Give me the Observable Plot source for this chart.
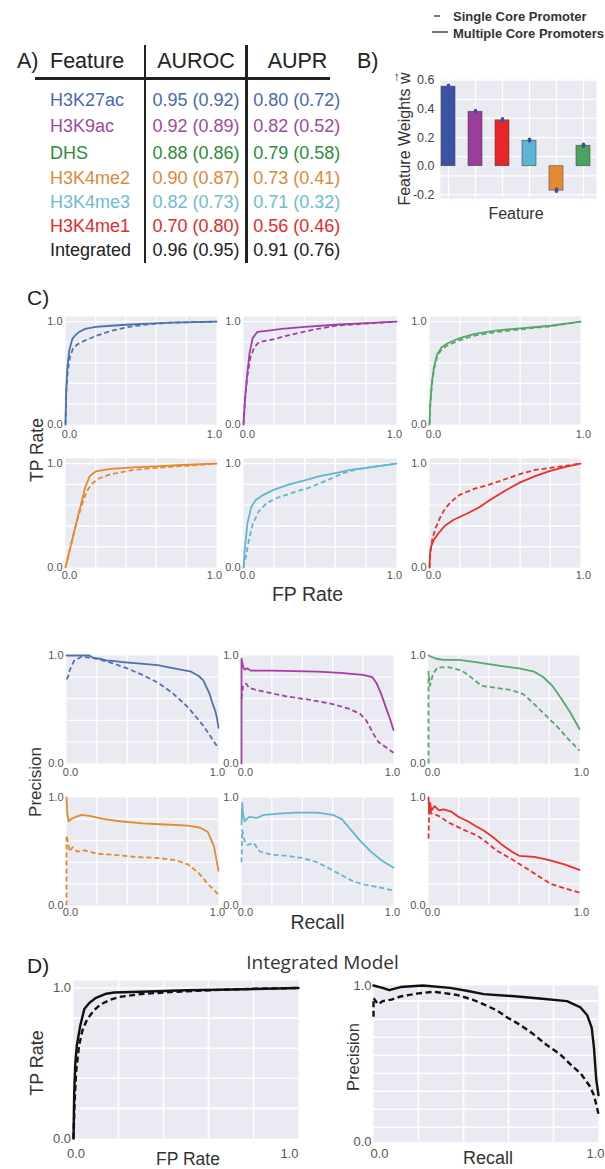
<!DOCTYPE html>
<html><head><meta charset="utf-8">
<script src="https://cdn.jsdelivr.net/npm/d3@7"></script>
<script src="https://cdn.jsdelivr.net/npm/@observablehq/plot@0.6"></script>
<style>
body{margin:0;background:#fff}
#fig{position:relative;width:605px;height:1169px;overflow:hidden;background:#fff;font-family:"Liberation Sans",Arial,sans-serif}
.t{position:absolute;white-space:nowrap;line-height:1}
.ln{position:absolute}
svg{overflow:visible}
.vec{position:relative;display:inline-block}
.vec .arr{position:absolute;left:0.02em;top:-0.62em;font-size:0.8em;line-height:1}
</style></head><body><div id="fig"></div>
<script>
// ---------- DATA ----------
const features = ["H3K27ac","H3K9ac","DHS","H3K4me2","H3K4me3","H3K4me1","Integrated"];
const aurocMulti  = [0.95,0.92,0.88,0.90,0.82,0.70,0.96];
const aurocSingle = [0.92,0.89,0.86,0.87,0.73,0.80,0.95];
const auprMulti   = [0.80,0.82,0.79,0.73,0.71,0.56,0.91];
const auprSingle  = [0.72,0.52,0.58,0.41,0.32,0.46,0.76];
const tableColors = ["#4B68AE","#9E4AA0","#2C8C3C","#E0883A","#6DBDD0","#E52A2A","#222222"];

const weightFeatures = ["H3K27ac","H3K9ac","H3K4me1","H3K4me3","H3K4me2","DHS"];
const weights   = [0.555,0.38,0.32,0.178,-0.17,0.143];
const weightErr = [0.007,0.006,0.008,0.006,0.008,0.007];
const barColors = ["#3A53A4","#9A3D9C","#E8262A","#5BB5D5","#E38B2E","#4DA35E"];
const weightTicks = [-0.2,0.0,0.2,0.4,0.6];
const weightGrid = [0.6,0.4667,0.3333,0.2,0.0667,-0.0667,-0.2];

const curveColors = {H3K27ac:"#4C72B0",H3K9ac:"#A23FA3",DHS:"#55A868",H3K4me2:"#E38A2D",H3K4me3:"#64B5CD",H3K4me1:"#E8302A",Integrated:"#111111"};

// ROC curves: [FP rate, TP rate]; multi = solid, single = dashed
const roc_H3K27ac_multi  = [[0,0],[0.004,0.3],[0.012,0.55],[0.025,0.72],[0.045,0.83],[0.06,0.86],[0.09,0.9],[0.13,0.93],[0.2,0.95],[0.3,0.96],[0.4,0.97],[0.55,0.98],[0.7,0.99],[0.85,0.995],[1,1]];
const roc_H3K27ac_single = [[0,0],[0.005,0.32],[0.015,0.52],[0.03,0.66],[0.05,0.74],[0.08,0.78],[0.12,0.81],[0.2,0.86],[0.3,0.91],[0.42,0.95],[0.55,0.975],[0.7,0.99],[0.85,0.995],[1,1]];
const roc_H3K9ac_multi   = [[0,0],[0.01,0.25],[0.025,0.5],[0.04,0.7],[0.06,0.84],[0.09,0.9],[0.15,0.91],[0.25,0.93],[0.4,0.95],[0.6,0.97],[0.8,0.985],[1,1]];
const roc_H3K9ac_single  = [[0,0],[0.01,0.24],[0.025,0.47],[0.045,0.65],[0.07,0.75],[0.1,0.8],[0.2,0.83],[0.3,0.87],[0.45,0.92],[0.6,0.96],[0.8,0.98],[1,1]];
const roc_DHS_multi      = [[0,0],[0.005,0.2],[0.015,0.4],[0.03,0.56],[0.05,0.68],[0.08,0.75],[0.12,0.79],[0.2,0.84],[0.3,0.88],[0.45,0.915],[0.6,0.935],[0.8,0.96],[1,1]];
const roc_DHS_single     = [[0,0],[0.005,0.18],[0.015,0.38],[0.03,0.54],[0.05,0.66],[0.08,0.73],[0.12,0.77],[0.2,0.82],[0.3,0.865],[0.45,0.9],[0.6,0.925],[0.8,0.955],[1,1]];
const roc_H3K4me2_multi  = [[0,0],[0.02,0.12],[0.05,0.3],[0.08,0.48],[0.11,0.65],[0.13,0.77],[0.16,0.88],[0.2,0.925],[0.3,0.95],[0.45,0.965],[0.6,0.975],[0.8,0.99],[1,1]];
const roc_H3K4me2_single = [[0,0],[0.02,0.12],[0.05,0.3],[0.08,0.47],[0.11,0.61],[0.14,0.73],[0.17,0.8],[0.21,0.85],[0.28,0.89],[0.36,0.915],[0.45,0.94],[0.6,0.96],[0.8,0.98],[1,1]];
const roc_H3K4me3_multi  = [[0,0],[0.01,0.2],[0.025,0.42],[0.05,0.58],[0.08,0.65],[0.13,0.7],[0.2,0.75],[0.3,0.8],[0.4,0.84],[0.5,0.88],[0.6,0.91],[0.7,0.94],[0.85,0.97],[1,1]];
const roc_H3K4me3_single = [[0,0],[0.015,0.1],[0.035,0.26],[0.06,0.42],[0.1,0.54],[0.15,0.62],[0.22,0.67],[0.3,0.71],[0.44,0.775],[0.57,0.855],[0.65,0.91],[0.74,0.945],[0.87,0.975],[1,1]];
const roc_H3K4me1_multi  = [[0,0],[0.003,0.12],[0.01,0.2],[0.03,0.27],[0.06,0.33],[0.1,0.4],[0.16,0.46],[0.25,0.52],[0.33,0.58],[0.4,0.65],[0.5,0.74],[0.6,0.82],[0.7,0.88],[0.8,0.93],[0.9,0.97],[1,1]];
const roc_H3K4me1_single = [[0,0],[0.005,0.15],[0.02,0.28],[0.04,0.38],[0.07,0.48],[0.1,0.56],[0.14,0.63],[0.2,0.7],[0.3,0.76],[0.4,0.8],[0.5,0.85],[0.6,0.9],[0.7,0.94],[0.8,0.96],[0.9,0.98],[1,1]];
const roc_Integrated_multi  = [[0,0],[0.003,0.3],[0.008,0.5],[0.015,0.62],[0.03,0.75],[0.048,0.86],[0.07,0.9],[0.1,0.935],[0.14,0.96],[0.18,0.97],[0.3,0.975],[0.5,0.985],[0.7,0.99],[0.85,0.995],[1,1]];
const roc_Integrated_single = [[0,0],[0.005,0.25],[0.012,0.45],[0.025,0.62],[0.04,0.72],[0.06,0.79],[0.09,0.85],[0.12,0.89],[0.16,0.92],[0.2,0.94],[0.3,0.96],[0.45,0.975],[0.6,0.985],[0.8,0.995],[1,1]];

// PR curves: [recall, precision]
const pr_H3K27ac_multi  = [[0,1],[0.15,1],[0.18,0.975],[0.22,0.97],[0.26,0.955],[0.3,0.95],[0.36,0.94],[0.45,0.93],[0.6,0.91],[0.75,0.87],[0.82,0.85],[0.87,0.81],[0.9,0.77],[0.94,0.65],[0.96,0.56],[0.98,0.48],[0.99,0.42],[1,0.33]];
const pr_H3K27ac_single = [[0,0.78],[0.01,0.8],[0.02,0.86],[0.05,0.95],[0.1,0.99],[0.15,0.98],[0.2,0.97],[0.25,0.95],[0.3,0.93],[0.4,0.88],[0.5,0.82],[0.6,0.75],[0.7,0.65],[0.8,0.52],[0.9,0.35],[1,0.14]];
const pr_H3K9ac_multi   = [[0,0],[0,0.97],[0.01,0.9],[0.02,0.87],[0.04,0.88],[0.06,0.86],[0.1,0.86],[0.2,0.86],[0.35,0.855],[0.5,0.85],[0.65,0.84],[0.8,0.82],[0.86,0.8],[0.89,0.74],[0.92,0.64],[0.95,0.52],[0.98,0.4],[1,0.31]];
const pr_H3K9ac_single  = [[0,0.6],[0.01,0.72],[0.03,0.74],[0.05,0.7],[0.1,0.68],[0.2,0.65],[0.3,0.62],[0.45,0.59],[0.6,0.55],[0.7,0.51],[0.78,0.46],[0.82,0.4],[0.87,0.27],[0.9,0.2],[0.95,0.15],[1,0.1]];
const pr_DHS_multi      = [[0,1],[0.05,0.97],[0.1,0.96],[0.2,0.96],[0.3,0.94],[0.4,0.92],[0.5,0.9],[0.6,0.88],[0.7,0.85],[0.76,0.8],[0.82,0.72],[0.88,0.6],[0.94,0.47],[1,0.32]];
const pr_DHS_single     = [[0,0],[0,0.85],[0.01,0.72],[0.03,0.83],[0.06,0.89],[0.14,0.89],[0.22,0.86],[0.28,0.8],[0.35,0.72],[0.45,0.7],[0.55,0.68],[0.63,0.64],[0.7,0.55],[0.78,0.44],[0.86,0.33],[0.93,0.22],[1,0.12]];
const pr_H3K4me2_multi  = [[0,1],[0.005,0.85],[0.015,0.78],[0.03,0.8],[0.06,0.82],[0.1,0.84],[0.15,0.83],[0.25,0.8],[0.35,0.78],[0.5,0.76],[0.65,0.75],[0.8,0.74],[0.88,0.72],[0.93,0.68],[0.97,0.55],[1,0.32]];
const pr_H3K4me2_single = [[0,0],[0,0.65],[0.01,0.58],[0.02,0.5],[0.04,0.54],[0.07,0.5],[0.12,0.51],[0.2,0.48],[0.3,0.47],[0.45,0.45],[0.6,0.44],[0.72,0.42],[0.8,0.38],[0.87,0.3],[0.93,0.2],[1,0.1]];
const pr_H3K4me3_multi  = [[0,0.75],[0.005,0.95],[0.01,0.85],[0.02,0.78],[0.05,0.82],[0.1,0.81],[0.15,0.84],[0.25,0.85],[0.35,0.86],[0.5,0.86],[0.6,0.84],[0.66,0.8],[0.72,0.7],[0.78,0.6],[0.85,0.5],[0.92,0.42],[1,0.35]];
const pr_H3K4me3_single = [[0,0.4],[0.005,0.7],[0.02,0.6],[0.04,0.56],[0.08,0.58],[0.12,0.5],[0.2,0.47],[0.3,0.46],[0.4,0.44],[0.5,0.4],[0.58,0.34],[0.66,0.28],[0.74,0.22],[0.82,0.19],[0.9,0.17],[1,0.14]];
const pr_H3K4me1_multi  = [[0,1],[0.005,0.85],[0.01,0.95],[0.02,0.88],[0.04,0.92],[0.07,0.88],[0.1,0.89],[0.15,0.87],[0.2,0.82],[0.26,0.78],[0.32,0.73],[0.37,0.69],[0.43,0.63],[0.48,0.57],[0.55,0.5],[0.6,0.46],[0.7,0.45],[0.8,0.42],[0.9,0.38],[1,0.33]];
const pr_H3K4me1_single = [[0,0.62],[0.005,0.9],[0.02,0.85],[0.05,0.84],[0.08,0.82],[0.13,0.77],[0.19,0.73],[0.25,0.69],[0.32,0.65],[0.38,0.59],[0.45,0.51],[0.55,0.43],[0.63,0.36],[0.72,0.28],[0.81,0.2],[0.9,0.16],[1,0.12]];
const pr_Integrated_multi  = [[0,1],[0.04,0.985],[0.07,0.97],[0.12,0.99],[0.22,1],[0.34,0.985],[0.42,0.965],[0.49,0.945],[0.64,0.93],[0.75,0.915],[0.86,0.9],[0.92,0.86],[0.95,0.81],[0.97,0.73],[0.98,0.6],[0.99,0.4],[1,0.3]];
const pr_Integrated_single = [[0,0.8],[0,0.92],[0.02,0.88],[0.04,0.9],[0.08,0.91],[0.12,0.93],[0.2,0.95],[0.27,0.96],[0.37,0.94],[0.44,0.91],[0.49,0.88],[0.55,0.84],[0.59,0.8],[0.65,0.75],[0.71,0.69],[0.77,0.62],[0.83,0.56],[0.88,0.49],[0.92,0.44],[0.96,0.36],[0.98,0.3],[1,0.18]];

const grid5 = [0.2,0.4,0.6,0.8];
const gridRocY = [0.2,0.4,0.6,0.8,1.0];
const gridPrY = [0.2,0.4,0.6,0.8];
const gridIntPrY = [0.095,0.21,0.325,0.44,0.555,0.67,0.785,0.9];
const edgeTicks = [0,1];

// ---------- HELPERS ----------
const fig = document.getElementById("fig");
function txt(str, x, y, o = {}) {
  const d = document.createElement("div");
  d.className = "t";
  if (o.html) d.innerHTML = str; else d.textContent = str;
  d.style.left = x + "px"; d.style.top = y + "px";
  d.style.fontSize = (o.size || 16) + "px";
  d.style.color = o.color || "#222";
  if (o.weight) d.style.fontWeight = o.weight;
  if (o.family) d.style.fontFamily = o.family;
  const ax = o.anchor === "middle" ? "-50%" : o.anchor === "end" ? "-100%" : "0";
  d.style.transform = `translate(${ax},-50%)` + (o.rotate ? ` rotate(${o.rotate}deg)` : "");
  fig.appendChild(d);
}
function seg(x, y, w, h, c) {
  const d = document.createElement("div");
  d.className = "ln";
  Object.assign(d.style, {left: x + "px", top: y + "px", width: w + "px", height: h + "px", background: c});
  fig.appendChild(d);
}
const fmt1 = d => d.toFixed(1);

function curvePanel(o) {
  const ml = 40, mr = 24, mt = 10, mb = 30;
  const [x0, x1] = o.fx, [y0, y1] = o.fy;
  const fs = o.fs || 11, lw = o.lw || 1.8;
  const axOpt = {tickSize: 0, tickFormat: fmt1, label: null, fontSize: fs};
  const svg = Plot.plot({
    width: x1 - x0 + ml + mr, height: y1 - y0 + mt + mb,
    marginLeft: ml, marginRight: mr, marginTop: mt, marginBottom: mb,
    x: {domain: [0, 1]}, y: {domain: o.yd},
    style: {background: "transparent", color: "#555", fontFamily: "Liberation Sans, Arial, sans-serif", overflow: "visible"},
    marks: [
      Plot.frame({fill: "#EAEAF2", stroke: "none"}),
      Plot.gridX(o.gx, {stroke: "#fff", strokeOpacity: 1, strokeWidth: o.gw || 1.3}),
      Plot.gridY(o.gy, {stroke: "#fff", strokeOpacity: 1, strokeWidth: o.gw || 1.3}),
      Plot.axisY({...axOpt, ticks: edgeTicks, tickPadding: o.yp ?? 3}),
      Plot.axisX({...axOpt, ticks: [edgeTicks[0]], tickPadding: o.xp ?? 4, dx: o.dx0 ?? 4}),
      Plot.axisX({...axOpt, ticks: [edgeTicks[1]], tickPadding: o.xp ?? 4, dx: o.dx1 ?? 0}),
      Plot.line(o.dashed, {stroke: o.color, strokeWidth: lw, strokeDasharray: o.dash || "5,3", strokeLinecap: "butt"}),
      Plot.line(o.solid, {stroke: o.color, strokeWidth: lw})
    ]
  });
  svg.style.position = "absolute";
  svg.style.left = (x0 - ml) + "px";
  svg.style.top = (y0 - mt) + "px";
  fig.appendChild(svg);
}

// ---------- LEGEND ----------
seg(434, 14.7, 6, 2, "#777");
seg(432, 31.3, 16, 2, "#777");
txt("Single Core Promoter", 453, 15.5, {size: 13, weight: "bold", color: "#333"});
txt("Multiple Core Promoters", 453, 32.5, {size: 13, weight: "bold", color: "#333"});

// ---------- PANEL A (table) ----------
txt("A)", 17, 62, {size: 21.5});
txt("Feature", 50, 62, {size: 21.5});
txt("AUROC", 196, 62, {size: 21.5, anchor: "middle"});
txt("AUPR", 297.5, 62, {size: 21.5, anchor: "middle"});
seg(35, 77, 295, 2.6, "#222");
seg(143.8, 45, 2.6, 218, "#222");
seg(245.4, 45, 2.6, 218, "#222");
const rowY = [100, 126, 152.5, 178, 201.5, 226, 250];
features.forEach((f, i) => {
  const c = tableColors[i];
  txt(f, 50, rowY[i], {size: 18, color: c});
  txt(`${aurocMulti[i].toFixed(2)} (${aurocSingle[i].toFixed(2)})`, 152.5, rowY[i], {size: 18, color: c});
  txt(`${auprMulti[i].toFixed(2)} (${auprSingle[i].toFixed(2)})`, 253.3, rowY[i], {size: 18, color: c});
});

// ---------- PANEL B (bars) ----------
txt("B)", 357, 62, {size: 21.5});
{
  const ml = 45, mr = 4, mt = 10, mb = 10;
  const fl = 440, fr = 596, ft = 79, fb = 198;
  const rows = weightFeatures.map((f, i) => ({f, v: weights[i], lo: weights[i] - weightErr[i], hi: weights[i] + weightErr[i], c: barColors[i]}));
  const svg = Plot.plot({
    width: fr - fl + ml + mr, height: fb - ft + mt + mb,
    marginLeft: ml, marginRight: mr, marginTop: mt, marginBottom: mb,
    x: {type: "band", domain: weightFeatures, range: [434 - (fl - ml), 596.6 - (fl - ml)], paddingInner: 0.495, paddingOuter: 0.2475, axis: null},
    y: {domain: [-0.225, 0.605]},
    style: {background: "transparent", color: "#444", fontFamily: "Liberation Sans, Arial, sans-serif", overflow: "visible"},
    marks: [
      Plot.frame({fill: "#EAEAF2", stroke: "none"}),
      Plot.gridX(weightFeatures, {stroke: "#fff", strokeOpacity: 1, strokeWidth: 1.3}),
      Plot.gridY(weightGrid, {stroke: "#fff", strokeOpacity: 1, strokeWidth: 1.3}),
      Plot.axisY({ticks: weightTicks, tickSize: 0, tickPadding: 6, tickFormat: fmt1, label: null, fontSize: 12.5}),
      Plot.barY(rows, {x: "f", y: "v", fill: "c", stroke: "#4a4a4a", strokeWidth: 0.6}),
      Plot.ruleX(rows, {x: "f", y1: "lo", y2: "hi", stroke: "#3b4fa6", strokeWidth: 3.5, strokeLinecap: "round"})
    ]
  });
  svg.style.position = "absolute";
  svg.style.left = (fl - ml) + "px";
  svg.style.top = (ft - mt) + "px";
  fig.appendChild(svg);
}
txt('Feature Weights <span class="vec">w<span class="arr">\u2192</span></span>', 405, 138.5, {html: true, size: 16, color: "#333", anchor: "middle", rotate: -90});
txt("Feature", 516, 214, {size: 16, color: "#333", anchor: "middle"});

// ---------- PANEL C ----------
txt("C)", 27, 297, {size: 21});
const cCols = [[65, 216], [243, 396], [429, 580]];
const prCols = [[66, 218], [241, 393], [428, 579]];
const rocRows = [[316, 424], [458, 567]];
const prRows = [[655, 763], [797, 905]];
const layout = [["H3K27ac","H3K9ac","DHS"],["H3K4me2","H3K4me3","H3K4me1"]];
const rocData = {
  H3K27ac: [roc_H3K27ac_multi, roc_H3K27ac_single], H3K9ac: [roc_H3K9ac_multi, roc_H3K9ac_single],
  DHS: [roc_DHS_multi, roc_DHS_single], H3K4me2: [roc_H3K4me2_multi, roc_H3K4me2_single],
  H3K4me3: [roc_H3K4me3_multi, roc_H3K4me3_single], H3K4me1: [roc_H3K4me1_multi, roc_H3K4me1_single]
};
const prData = {
  H3K27ac: [pr_H3K27ac_multi, pr_H3K27ac_single], H3K9ac: [pr_H3K9ac_multi, pr_H3K9ac_single],
  DHS: [pr_DHS_multi, pr_DHS_single], H3K4me2: [pr_H3K4me2_multi, pr_H3K4me2_single],
  H3K4me3: [pr_H3K4me3_multi, pr_H3K4me3_single], H3K4me1: [pr_H3K4me1_multi, pr_H3K4me1_single]
};
const rocXPad = [6, 4], prXPad = [5, 3];
layout.forEach((row, r) => row.forEach((f, c) => {
  curvePanel({fx: cCols[c], fy: rocRows[r], yd: [0, 1.05], gx: grid5, gy: gridRocY,
    solid: rocData[f][0], dashed: rocData[f][1], color: curveColors[f], xp: rocXPad[r], dx1: c === 2 ? 3 : -2});
  curvePanel({fx: prCols[c], fy: prRows[r], yd: [0, 1], gx: grid5, gy: gridPrY,
    solid: prData[f][0], dashed: prData[f][1], color: curveColors[f], xp: prXPad[r], dx1: c === 2 ? 2 : -1});
}));
txt("TP Rate", 38, 450, {size: 17.5, color: "#333", anchor: "middle", rotate: -90});
txt("FP Rate", 307.5, 595, {size: 19.5, color: "#333", anchor: "middle"});
txt("Precision", 35, 782, {size: 17, color: "#333", anchor: "middle", rotate: -90});
txt("Recall", 317.5, 923, {size: 19.5, color: "#333", anchor: "middle"});

// ---------- PANEL D ----------
txt("D)", 27, 965, {size: 21});
txt("Integrated Model", 322.5, 962, {size: 19, color: "#333", anchor: "middle", family: "Open Sans, sans-serif"});
curvePanel({fx: [72.5, 297.5], fy: [980, 1138], yd: [0, 1.05], gx: grid5, gy: gridRocY,
  solid: roc_Integrated_multi, dashed: roc_Integrated_single, color: curveColors.Integrated,
  fs: 13, lw: 2.4, dash: "6,3.5", xp: 10.5, yp: 2.5, dx0: 2.5, dx1: -9, gw: 1.6});
curvePanel({fx: [373.3, 598.3], fy: [985, 1141.7], yd: [0, 1], gx: grid5, gy: gridIntPrY,
  solid: pr_Integrated_multi, dashed: pr_Integrated_single, color: curveColors.Integrated,
  fs: 13, lw: 2.4, dash: "6,3.5", xp: 6.5, yp: 2, dx0: 6, dx1: -3, gw: 1.6});
txt("TP Rate", 36.7, 1063, {size: 18, color: "#333", anchor: "middle", rotate: -90});
txt("FP Rate", 188, 1160, {size: 17.5, color: "#333", anchor: "middle"});
txt("Precision", 353, 1057, {size: 16.5, color: "#333", anchor: "middle", rotate: -90});
txt("Recall", 488, 1158, {size: 18, color: "#333", anchor: "middle"});
</script></body></html>
